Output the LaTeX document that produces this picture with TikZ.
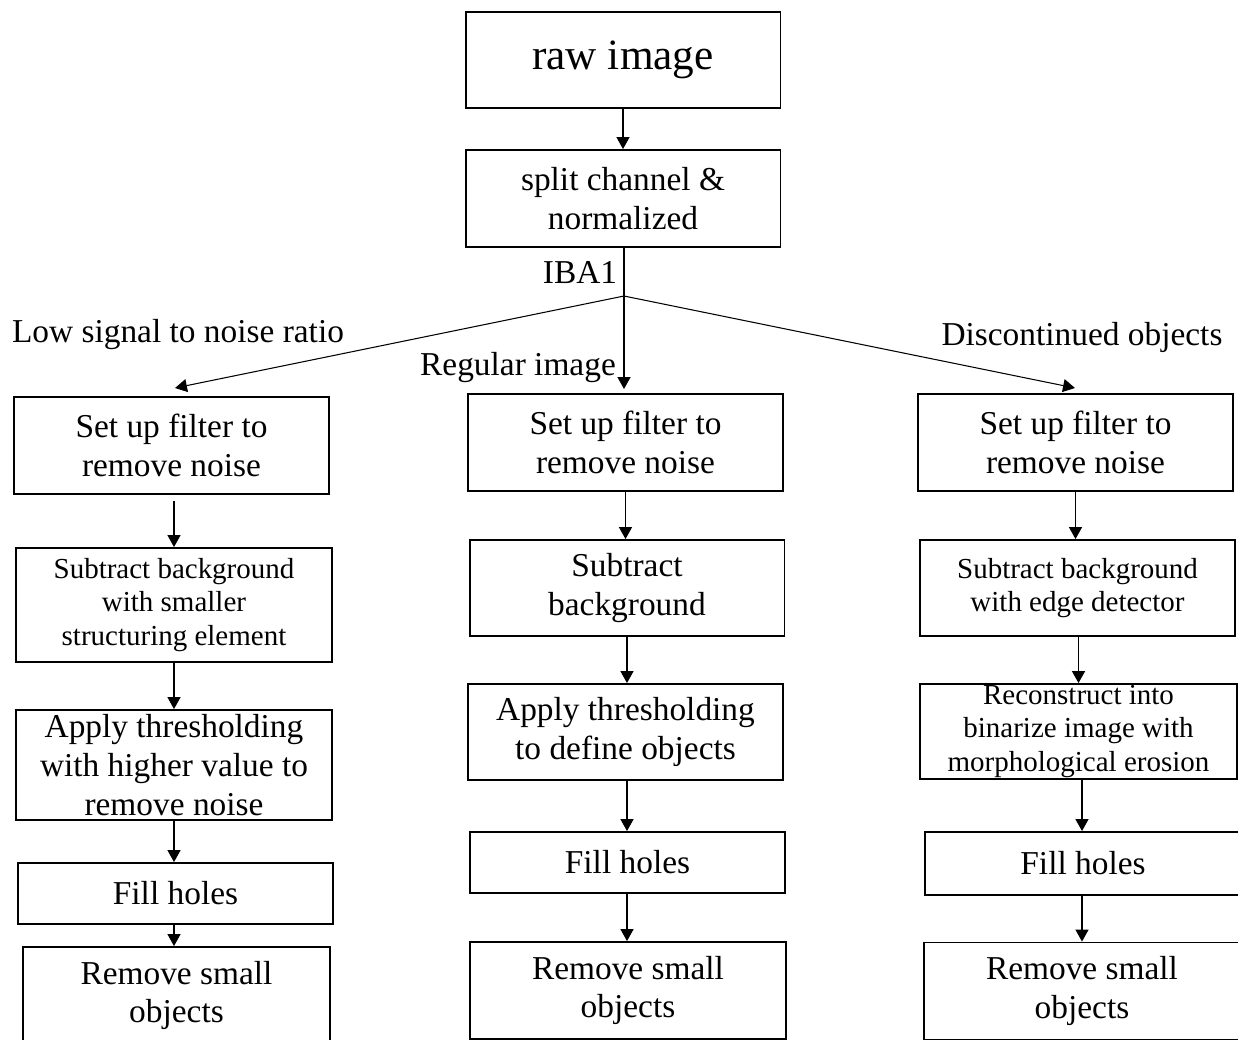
\documentclass[tikz,border=0pt]{standalone}
\usepackage{fontspec}
\setmainfont{Liberation Serif}
\usetikzlibrary{arrows.meta,positioning}

\begin{document}
\begin{tikzpicture}[x=0.02cm,y=-0.02cm,
    boxstyle/.style={rectangle,draw,line width=1.1pt,align=center,inner sep=0pt,
        font=\fontsize{19}{22}\selectfont,minimum width=6.3cm,minimum height=1.94cm},
    smallstyle/.style={boxstyle,font=\fontsize{16.5}{19}\selectfont},
    labelstyle/.style={inner sep=0pt,font=\fontsize{19}{22}\selectfont},
    arrowstyle/.style={-{Triangle[width=7.4pt,length=6.8pt]},line width=0.7pt}]
    \clip (0,0) rectangle (1238,1039);
    \useasboundingbox (0,0) rectangle (1238,1039);
    % top part
    \node[boxstyle,font=\fontsize{24.6}{28}\selectfont,minimum height=1.92cm] (rawimg) at (623,60) {raw image};
    \node[boxstyle] (split) at (623,198.5) {split channel \&\\normalized};
    \draw[arrowstyle] (rawimg) -- (split);
    \coordinate (junc) at (624,296);
    \draw[line width=0.7pt] (split.south -| junc) -- (junc);
    \node[labelstyle] (iba) at (580,273) {IBA1};
    % left column
    \node[boxstyle] (low1) at (171.5,445.5) {Set up filter to\\remove noise};
    \node[smallstyle,minimum width=6.32cm,minimum height=2.28cm] (low2) at (174,605) {Subtract background\\with smaller\\structuring element};
    \node[boxstyle,minimum width=6.32cm,minimum height=2.2cm] (low3) at (174,765) {Apply thresholding\\with higher value to\\remove noise};
    \node[boxstyle,minimum height=1.22cm] (low4) at (175.5,893.5) {Fill holes};
    \node[boxstyle,minimum width=6.14cm] (low5) at (176.5,995.5) {Remove small\\objects};
    % middle column
    \node[boxstyle] (reg1) at (625.5,442.5) {Set up filter to\\remove noise};
    \node[boxstyle,minimum height=1.92cm] (reg2) at (627,588) {Subtract\\background};
    \node[boxstyle,minimum height=1.92cm] (reg3) at (625.5,732) {Apply thresholding\\to define objects};
    \node[boxstyle,minimum height=1.22cm] (reg4) at (627.5,862.5) {Fill holes};
    \node[boxstyle,minimum width=6.32cm] (reg5) at (628,990.5) {Remove small\\objects};
    % right column
    \node[boxstyle] (dis1) at (1075.5,442.5) {Set up filter to\\remove noise};
    \node[smallstyle,minimum height=1.92cm] (dis2) at (1077.5,588) {Subtract background\\with edge detector};
    \node[smallstyle,minimum width=6.34cm,minimum height=1.9cm] (dis3) at (1078.5,731.5) {Reconstruct into\\binarize image with\\morphological erosion};
    \node[boxstyle,minimum width=6.32cm,minimum height=1.26cm] (dis4) at (1083,863.5) {Fill holes};
    \node[boxstyle,minimum width=6.32cm] (dis5) at (1082,991) {Remove small\\objects};
    % branches
    \coordinate (lowend) at (175,388);
    \coordinate (regend) at (624,389);
    \coordinate (disend) at (1075,388);
    \draw[arrowstyle,line width=0.6pt] (junc) -- (lowend);
    \draw[arrowstyle] (junc) -- (regend);
    \draw[arrowstyle,line width=0.6pt] (junc) -- (disend);
    \node[labelstyle] (lowlab) at (178,335) {Low signal to noise ratio};
    \node[labelstyle] (reglab) at (518,368) {Regular image};
    \node[labelstyle] (dislab) at (1082,337) {Discontinued objects};
    % column arrows
    \draw[arrowstyle] ([yshift=-3.4pt]low1.south -| low2) -- (low2.north);
    \draw[arrowstyle] (low2.south) -- (low3.north -| low2);
    \draw[arrowstyle] (low3.south) -- (low4.north -| low3);
    \draw[arrowstyle] (low4.south -| low3) -- (low5.north -| low3);
    \draw[arrowstyle] (reg1.south) -- (reg2.north -| reg1);
    \draw[arrowstyle] (reg2.south) -- (reg3.north -| reg2);
    \draw[arrowstyle] (reg3.south -| reg2) -- (reg4.north -| reg2);
    \draw[arrowstyle] (reg4.south -| reg2) -- (reg5.north -| reg2);
    \draw[arrowstyle] (dis1.south) -- (dis2.north -| dis1);
    \draw[arrowstyle] (dis2.south -| dis3) -- (dis3.north);
    \draw[arrowstyle] (dis3.south -| dis5) -- (dis4.north -| dis5);
    \draw[arrowstyle] (dis4.south -| dis5) -- (dis5.north);
\end{tikzpicture}
\end{document}
